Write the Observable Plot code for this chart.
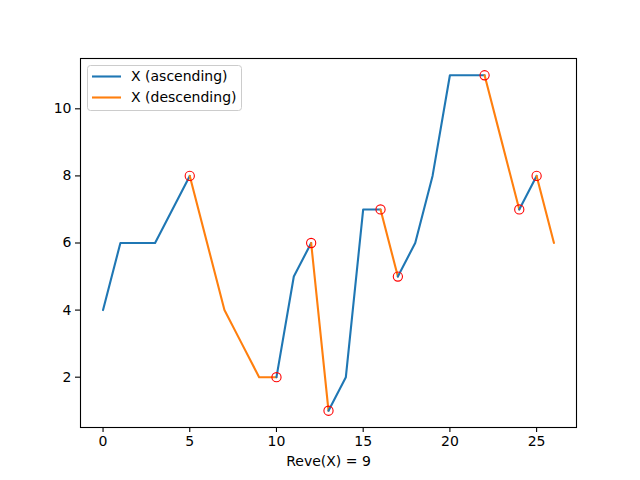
<!DOCTYPE html>
<html>
<head>
<meta charset="utf-8">
<script src="https://cdn.jsdelivr.net/npm/d3@7"></script>
<script src="https://cdn.jsdelivr.net/npm/@observablehq/plot@0.6"></script>
<style>
  body { margin: 0; background: #ffffff; }
  #chart { width: 640px; height: 480px; }
</style>
</head>
<body>
<div id="chart"></div>
<script>
// Sequence X, indexed by position
const positions = [0, 1, 2, 3, 4, 5, 6, 7, 8, 9, 10, 11, 12, 13, 14, 15, 16, 17, 18, 19, 20, 21, 22, 23, 24, 25, 26];
const values = [4, 6, 6, 6, 7, 8, 6, 4, 3, 2, 2, 5, 6, 1, 2, 7, 7, 5, 6, 8, 11, 11, 11, 9, 7, 8, 6];
const seriesNames = ["X (ascending)", "X (descending)"];
const seriesColors = ["#1f77b4", "#ff7f0e"];
const xTicks = [0, 5, 10, 15, 20, 25];
const yTicks = [2, 4, 6, 8, 10];

// Direction of each step; a flat step keeps the previous direction
const steps = [];
let prevDir = 1;
for (let i = 0; i < values.length - 1; i++) {
  const d = Math.sign(values[i + 1] - values[i]) || prevDir;
  steps.push(d);
  prevDir = d;
}

// Split into monotone runs and collect the reversal points
const rows = [];
const turns = [];
let start = 0;
for (let i = 1; i <= steps.length; i++) {
  if (i === steps.length || steps[i] !== steps[start]) {
    const series = steps[start] > 0 ? seriesNames[0] : seriesNames[1];
    for (let j = start; j <= i; j++) rows.push({x: positions[j], y: values[j], run: start, series});
    if (i < steps.length) turns.push({x: positions[i], y: values[i]});
    start = i;
  }
}

const xLabel = `Reve(X) = ${turns.length}`;

const plot = Plot.plot({
  width: 640,
  height: 480,
  marginLeft: 80,
  marginRight: 64,
  marginTop: 58,
  marginBottom: 53,
  style: {fontFamily: "DejaVu Sans", fontSize: "14px", background: "#ffffff", color: "#000000"},
  x: {domain: [-1.3, 27.3]},
  y: {domain: [0.5, 11.5]},
  color: {domain: seriesNames, range: seriesColors},
  marks: [
    Plot.axisX({ticks: xTicks, tickSize: 5, tickPadding: 4, label: null, strokeWidth: 1.1}),
    Plot.axisY({ticks: yTicks, tickSize: 5, tickPadding: 4, label: null, strokeWidth: 1.1}),
    Plot.line(rows, {x: "x", y: "y", z: "run", stroke: "series", strokeWidth: 2.1, strokeLinejoin: "round"}),
    Plot.dot(turns, {x: "x", y: "y", r: 4.6, stroke: "#ff0000", fill: "none", strokeWidth: 1.1}),
    Plot.frame({stroke: "#000000", strokeWidth: 1.1}),
    Plot.text([xLabel], {text: d => d, frameAnchor: "bottom", dy: 38, fontSize: 14})
  ]
});

// Legend box in the upper-left corner of the axes
const svg = d3.select(plot);
const legend = svg.append("g").attr("text-anchor", "start");
legend.append("rect")
  .attr("x", 87.5).attr("y", 65.5)
  .attr("width", 154).attr("height", 45)
  .attr("rx", 3)
  .attr("fill", "#ffffff").attr("fill-opacity", 0.8)
  .attr("stroke", "#cccccc");
seriesNames.forEach((name, i) => {
  const y = 76.5 + i * 21;
  legend.append("line")
    .attr("x1", 92).attr("x2", 121)
    .attr("y1", y).attr("y2", y)
    .attr("stroke", seriesColors[i]).attr("stroke-width", 2.1);
  legend.append("text")
    .attr("x", 131).attr("y", y).attr("dy", "0.35em")
    .attr("text-anchor", "start")
    .attr("font-size", 14).attr("fill", "#000000")
    .text(name);
});

document.getElementById("chart").append(plot);
</script>
</body>
</html>
